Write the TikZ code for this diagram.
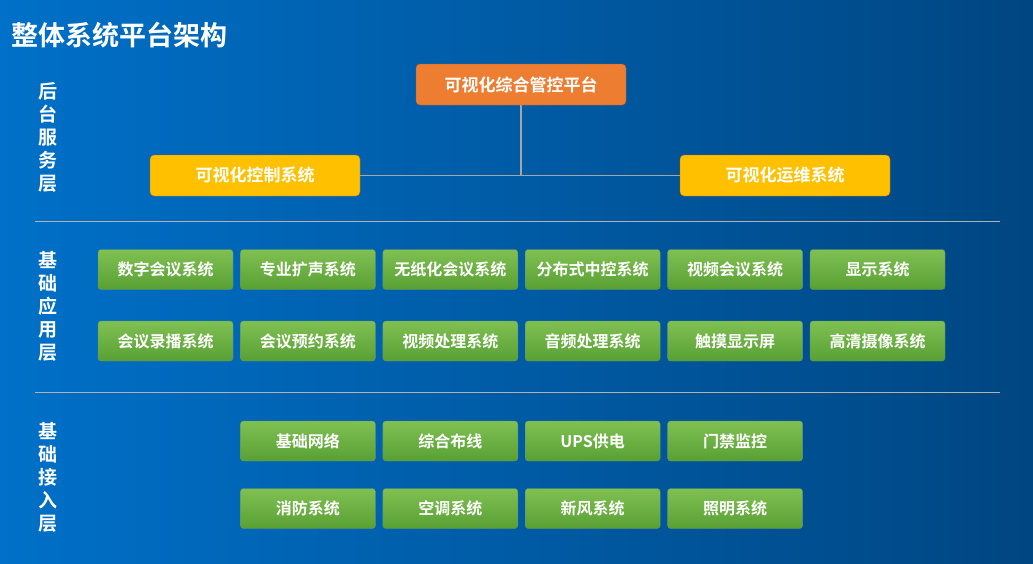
\documentclass[tikz,border=0pt]{standalone}
\usepackage{fontspec}
\setmainfont{Noto Sans CJK SC Bold}
\begin{document}
\begin{tikzpicture}[x=1pt,y=-1pt,
  gbox/.style={draw=green!30!black!60,rounded corners=3pt,top color=gtop,bottom color=gbot,text=white,font=\fontsize{16}{16}\selectfont,minimum width=135pt,minimum height=40pt,inner sep=0pt},
  ybox/.style={draw=orange!80!black,rounded corners=4pt,fill=yfill,text=white,font=\fontsize{17}{17}\selectfont,minimum width=210pt,minimum height=41pt,inner sep=0pt},
  obox/.style={ybox,fill=ofill,draw=ofill!80!black},
  sep/.style={draw=gray!60,line width=1pt},
  lnk/.style={draw=gray!70,line width=1.2pt},
  lbl/.style={text=white,font=\fontsize{19}{23}\selectfont,align=center,text width=22pt}]
\definecolor{gtop}{RGB}{128,192,82}
\definecolor{gbot}{RGB}{88,160,52}
\definecolor{yfill}{RGB}{255,192,0}
\definecolor{ofill}{RGB}{237,125,49}
\definecolor{bgl}{RGB}{0,112,200}
\definecolor{bgr}{RGB}{0,70,130}
\shade[left color=bgl,right color=bgr] (0,0) rectangle (1033,563);
\useasboundingbox (0,0) rectangle (1033,563);
\node[anchor=west,text=white,font=\fontsize{27}{27}\selectfont] (title) at (8,35) {整体系统平台架构};
\node[lbl] (l1) at (48,137) {后\\台\\服\\务\\层};
\node[lbl] (l2) at (48,306) {基\\础\\应\\用\\层};
\node[lbl] (l3) at (48,477) {基\\础\\接\\入\\层};
\coordinate (s1a) at (35,221); \coordinate (s1b) at (1000,221);
\coordinate (s2a) at (35,392); \coordinate (s2b) at (1000,392);
\draw[sep] (s1a) -- (s1b); \draw[sep] (s2a) -- (s2b);
\node[obox] (top) at (521,84.5) {可视化综合管控平台};
\node[ybox] (ctl) at (255,175.5) {可视化控制系统};
\node[ybox] (ops) at (785,175.5) {可视化运维系统};
\coordinate (j) at (521,175.5);
\draw[lnk] (top.south) -- (j);
\draw[lnk] (ctl.east) -- (ops.west);
\foreach \t [count=\i] in {数字会议系统,专业扩声系统,无纸化会议系统,分布式中控系统,视频会议系统,显示系统}
  \node[gbox] (a\i) at ({165.5+142.4*(\i-1)},269.5) {\t};
\foreach \t [count=\i] in {会议录播系统,会议预约系统,视频处理系统,音频处理系统,触摸显示屏,高清摄像系统}
  \node[gbox] (b\i) at ({165.5+142.4*(\i-1)},341) {\t};
\foreach \t [count=\i] in {基础网络,综合布线,UPS供电,门禁监控}
  \node[gbox] (c\i) at ({307.9+142.4*(\i-1)},441) {\t};
\foreach \t [count=\i] in {消防系统,空调系统,新风系统,照明系统}
  \node[gbox] (d\i) at ({307.9+142.4*(\i-1)},508.5) {\t};
\end{tikzpicture}
\end{document}
